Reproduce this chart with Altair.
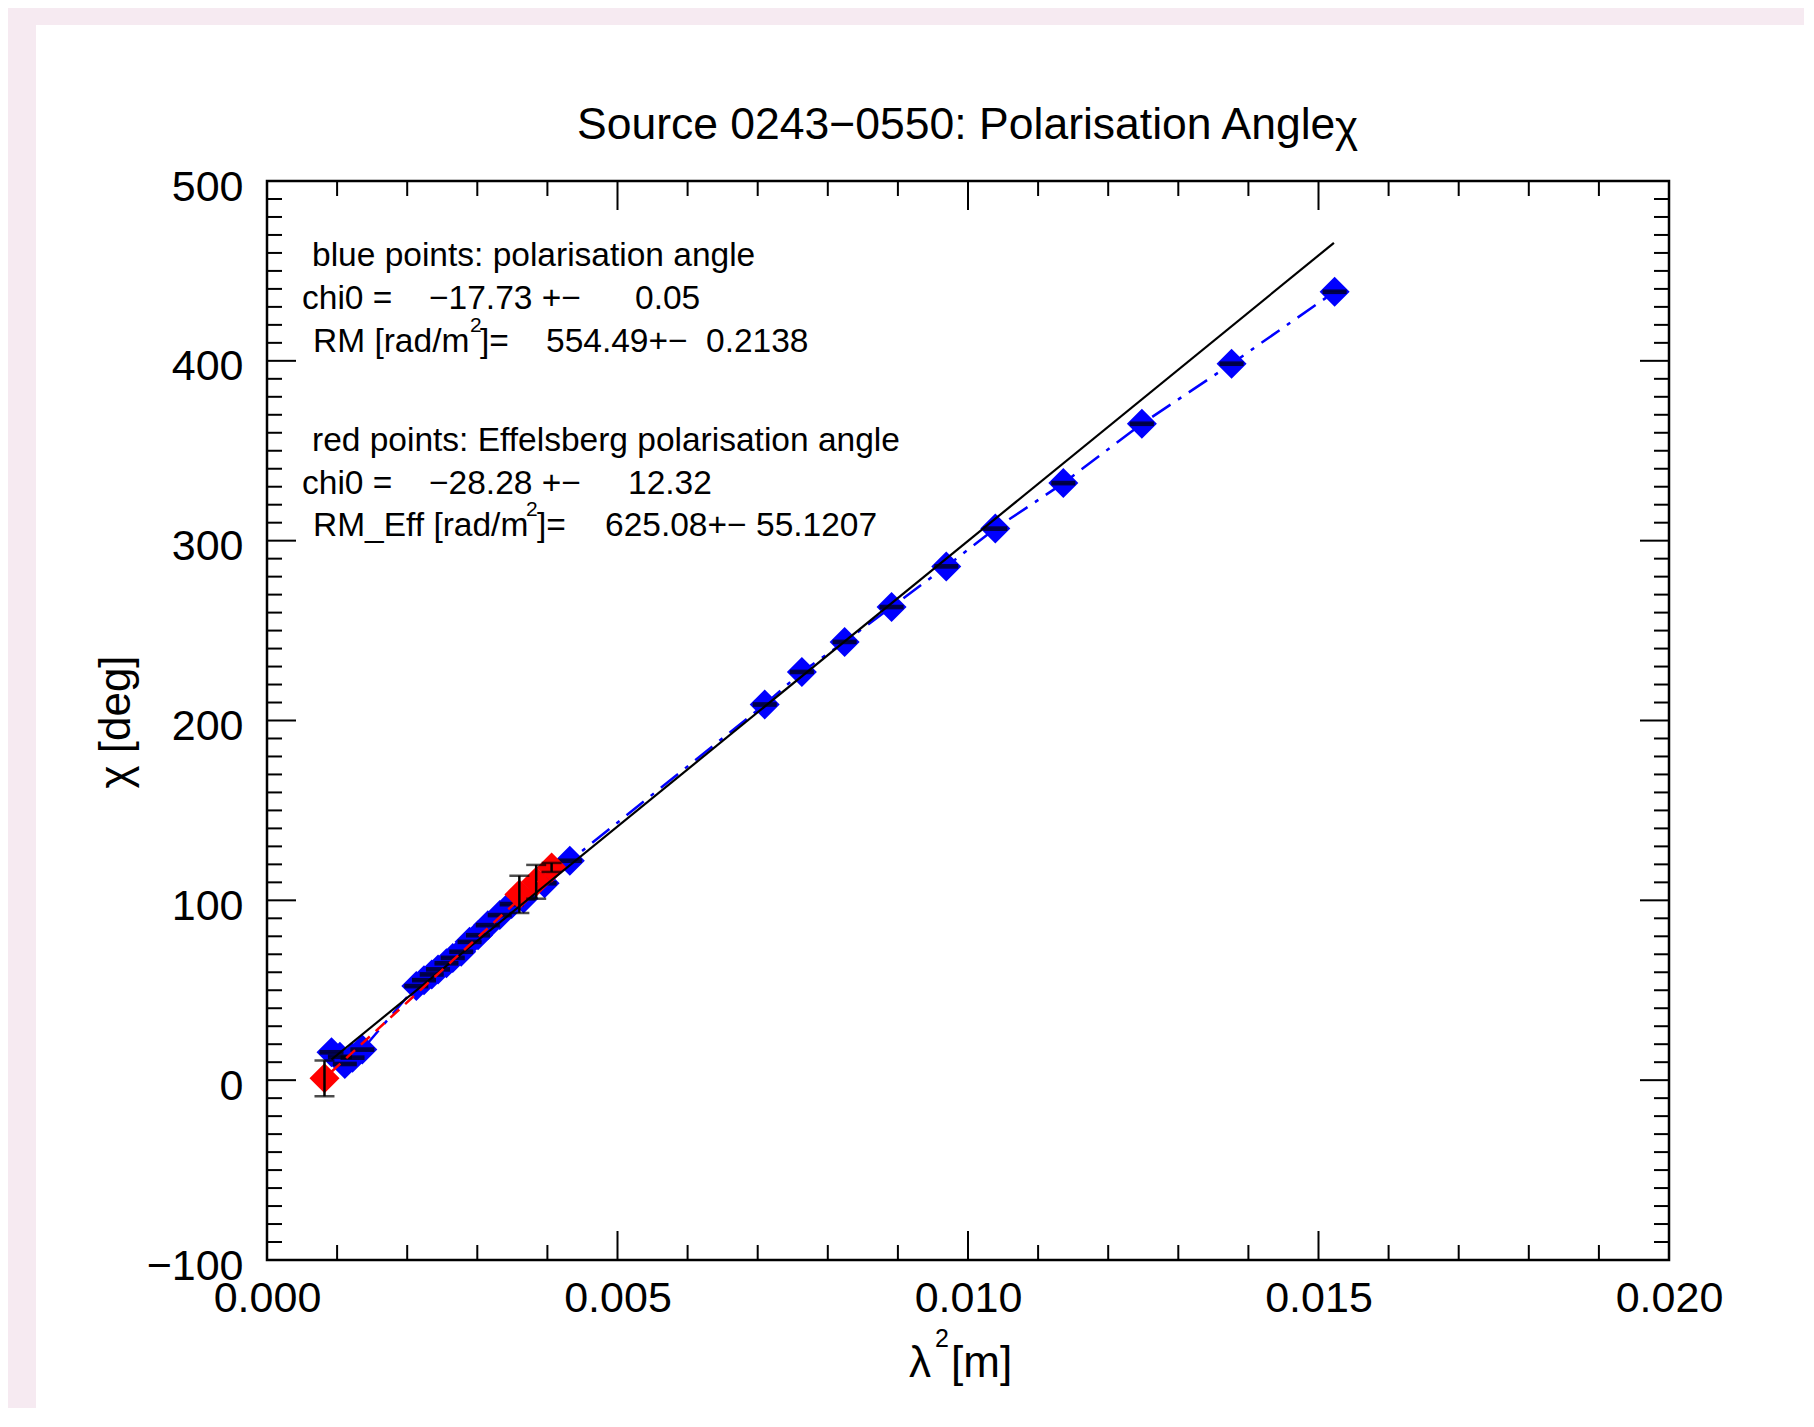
import altair as alt
import pandas as pd

# ---------------- data ----------------
blue_x = [0.00092, 0.00104, 0.00111, 0.00122, 0.00136,
          0.00213, 0.00224, 0.00235, 0.00244, 0.00256, 0.00265, 0.00277,
          0.00289, 0.00301, 0.00315, 0.00332, 0.00349, 0.00366, 0.00396,
          0.00432, 0.00710, 0.00763, 0.00824, 0.00891, 0.00969, 0.01039,
          0.01136, 0.01248, 0.01376, 0.01523]
blue_y = [15.5, 13.0, 9.0, 12.5, 17.0,
          52.3, 55.6, 58.8, 61.6, 65.0, 68.0, 71.4,
          76.9, 80.6, 86.2, 91.8, 97.9, 101.0, 109.5,
          122.0, 208.9, 227.0, 243.7, 263.1, 285.7, 306.7,
          332.0, 365.0, 398.4, 438.4]
blue_err = [0.6, 0.6, 0.6, 0.6, 0.6,
            0.6, 0.6, 0.6, 0.6, 0.6, 0.6, 0.6,
            0.6, 0.6, 0.6, 0.6, 0.6, 0.6, 0.6,
            0.6, 0.6, 0.6, 0.6, 0.6, 0.6, 0.6,
            0.6, 0.6, 0.6, 0.6]

red_x = [0.00082, 0.00360, 0.00384, 0.00406]
red_y = [1.0, 103.3, 110.3, 118.3]
red_err = [10.0, 10.4, 9.4, 2.5]

fit_blue_x = [0.00092, 0.01522]
fit_blue_y = [11.5, 465.6]
fit_red_x = [0.00092, 0.00406]
fit_red_y = [4.7, 117.1]

x_major = [0.000, 0.005, 0.010, 0.015, 0.020]
x_minor = [0.001, 0.002, 0.003, 0.004, 0.006, 0.007, 0.008, 0.009,
           0.011, 0.012, 0.013, 0.014, 0.016, 0.017, 0.018, 0.019]
y_major = [-100, 0, 100, 200, 300, 400, 500]
y_minor = [v for v in range(-90, 500, 10) if v % 100 != 0]

# ---------------- layout ----------------
W, H = 1402, 1079
FONT = "Liberation Sans"
BLUE = "#0000FF"
RED = "#FF0000"

xs = alt.Scale(domain=[0, 0.02], nice=False, zero=False)
ys = alt.Scale(domain=[-100, 500], nice=False, zero=False)

xaxis = alt.Axis(values=x_major, format=".3f", title=None, grid=False,
                 domain=False, ticks=False, tickSize=0, labelFont=FONT,
                 labelFontSize=43, labelColor="black", labelPadding=51,
                 labelBaseline="alphabetic", labelFlush=False,
                 labelOverlap=False, zindex=2)
yaxis = alt.Axis(values=y_major, format="d", title=None, grid=False,
                 domain=False, ticks=False, tickSize=0, labelFont=FONT,
                 labelFontSize=43, labelColor="black", labelPadding=24,
                 labelBaseline="alphabetic", labelOffset=19,
                 labelOverlap=False, zindex=2)


def X(f):
    return alt.X(f, type="quantitative", scale=xs, axis=xaxis)


def Y(f):
    return alt.Y(f, type="quantitative", scale=ys, axis=yaxis)


one = alt.Data(values=[{}])


def T(text, x, y, size, align="left", baseline="alphabetic", angle=0):
    return alt.Chart(one).mark_text(
        font=FONT, fontSize=size, color="black", align=align,
        baseline=baseline, angle=angle
    ).encode(x=alt.value(x), y=alt.value(y), text=alt.value(text))


blue = pd.DataFrame({"x": blue_x, "y": blue_y, "e": blue_err})
blue["lo"] = blue["y"] - blue["e"]
blue["hi"] = blue["y"] + blue["e"]
red = pd.DataFrame({"x": red_x, "y": red_y, "e": red_err})
red["lo"] = red["y"] - red["e"]
red["hi"] = red["y"] + red["e"]
fitb = pd.DataFrame({"x": fit_blue_x, "y": fit_blue_y})
fitr = pd.DataFrame({"x": fit_red_x, "y": fit_red_y})

card = alt.Chart(one).mark_rect(fill="white").encode(
    x=alt.value(-231), x2=alt.value(W + 300),
    y=alt.value(-156), y2=alt.value(H + 300))

blue_line = alt.Chart(blue).mark_line(
    color=BLUE, strokeWidth=2.5, strokeDash=[22, 9, 4, 9]
).encode(x=X("x"), y=Y("y"), order="x:Q")

blue_pts = alt.Chart(blue).mark_point(
    shape="diamond", filled=True, size=900, color=BLUE, opacity=1
).encode(x=X("x"), y=Y("y"))

blue_cap_lo = alt.Chart(blue).mark_tick(
    orient="horizontal", size=24, thickness=2.5, color="black"
).encode(x=X("x"), y=Y("lo"))
blue_cap_hi = alt.Chart(blue).mark_tick(
    orient="horizontal", size=24, thickness=2.5, color="black"
).encode(x=X("x"), y=Y("hi"))

red_pts = alt.Chart(red).mark_point(
    shape="diamond", filled=True, size=900, color=RED, opacity=1
).encode(x=X("x"), y=Y("y"))

red_bar = alt.Chart(red).mark_rule(color="black", strokeWidth=2.5).encode(
    x=X("x"), y=Y("lo"), y2="hi")
red_cap_lo = alt.Chart(red).mark_tick(
    orient="horizontal", size=20, thickness=2.5, color="black"
).encode(x=X("x"), y=Y("lo"))
red_cap_hi = alt.Chart(red).mark_tick(
    orient="horizontal", size=20, thickness=2.5, color="black"
).encode(x=X("x"), y=Y("hi"))

fit_black = alt.Chart(fitb).mark_line(color="black", strokeWidth=2.2).encode(
    x=X("x"), y=Y("y"))
fit_red = alt.Chart(fitr).mark_line(
    color=RED, strokeWidth=2.5, strokeDash=[12, 8]
).encode(x=X("x"), y=Y("y"))

# inward ticks (IDL style)
MAJ, MIN = 29, 15


def xticks(vals, length):
    d = pd.DataFrame({"t": vals})
    bot = alt.Chart(d).mark_rule(color="black", strokeWidth=2).encode(
        x=X("t"), y=alt.value(H), y2=alt.value(H - length))
    top = alt.Chart(d).mark_rule(color="black", strokeWidth=2).encode(
        x=X("t"), y=alt.value(0), y2=alt.value(length))
    return [bot, top]


def yticks(vals, length):
    d = pd.DataFrame({"t": vals})
    left = alt.Chart(d).mark_rule(color="black", strokeWidth=2).encode(
        y=Y("t"), x=alt.value(0), x2=alt.value(length))
    right = alt.Chart(d).mark_rule(color="black", strokeWidth=2).encode(
        y=Y("t"), x=alt.value(W), x2=alt.value(W - length))
    return [left, right]


frame = alt.Chart(one).mark_rect(
    fillOpacity=0, stroke="black", strokeWidth=2.5
).encode(x=alt.value(0), x2=alt.value(W), y=alt.value(0), y2=alt.value(H))

texts = [
    T("Source 0243\u22120550: Polarisation Angle", 310, -42.5, 44.5),
    T("\u03c7", 1068, -39, 44),
    T("blue points: polarisation angle", 45, 84.5, 33.5),
    T("chi0 =", 35, 127.8, 33.5),
    T("\u221217.73 +\u2212", 162, 127.8, 33.5),
    T("0.05", 368, 127.8, 33.5),
    T("RM [rad/m", 46, 171.2, 33.5),
    T("2", 203, 151, 21),
    T("]=", 213, 171.2, 33.5),
    T("554.49+\u2212", 279, 171.2, 33.5),
    T("0.2138", 439, 171.2, 33.5),
    T("red points: Effelsberg polarisation angle", 45, 269.5, 33.5),
    T("chi0 =", 35, 312.8, 33.5),
    T("\u221228.28 +\u2212", 162, 312.8, 33.5),
    T("12.32", 361, 312.8, 33.5),
    T("RM_Eff [rad/m", 46, 354.5, 33.5),
    T("2", 259, 334.5, 21),
    T("]=", 270, 354.5, 33.5),
    T("625.08+\u2212", 338, 354.5, 33.5),
    T("55.1207", 489, 354.5, 33.5),
    # axis titles
    T("\u03c7 [deg]", -150, 541, 44, align="center", baseline="middle", angle=270),
    T("\u03bb", 642, 1196, 44),
    T("2", 668, 1166, 25),
    T("[m]", 684, 1196, 44),
]

layers = ([card, blue_line, blue_pts, blue_cap_lo, blue_cap_hi, red_pts,
           red_bar, red_cap_lo, red_cap_hi, fit_black, fit_red]
          + xticks(x_major, MAJ) + xticks(x_minor, MIN)
          + yticks(y_major, MAJ) + yticks(y_minor, MIN)
          + [frame] + texts)

chart = alt.layer(*layers).properties(
    width=W, height=H,
    padding={"left": 259, "top": 173, "right": 135, "bottom": 148},
    autosize=alt.AutoSizeParams(type="none"),
    background="#F6EAF1",
).configure_view(strokeWidth=0)

chart.save("out.html", embed_options={"renderer": "svg", "actions": False})
